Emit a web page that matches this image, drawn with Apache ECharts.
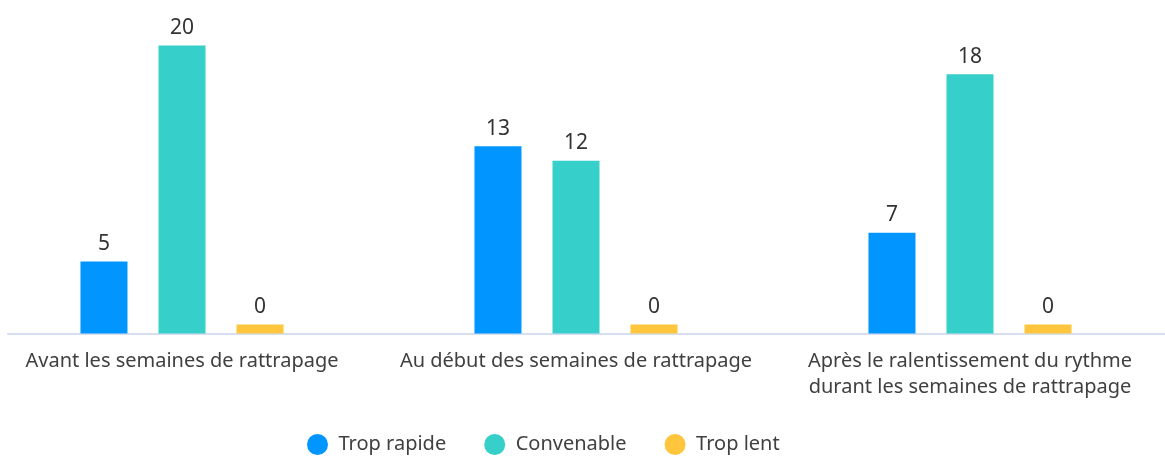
<!DOCTYPE html>
<html>
<head>
<meta charset="utf-8">
<script src="https://cdn.jsdelivr.net/npm/echarts@6/dist/echarts.min.js"></script>
<style>
html, body { margin: 0; padding: 0; background: #fff; }
#chart { width: 1165px; height: 459px; }
</style>
</head>
<body>
<div id="chart"></div>
<script>
// catégories et valeurs
var categories = [
	'Avant les semaines de rattrapage',
	'Au début des semaines de rattrapage',
	'Après le ralentissement du rythme\ndurant les semaines de rattrapage'
];
var seriesNames = ['Trop rapide', 'Convenable', 'Trop lent'];
var tropRapide = [5, 13, 7];
var convenable = [20, 12, 18];
var tropLent = [0, 0, 0];
var colors = ['#0095ff', '#36cfc9', '#ffc53d'];

var font = '"Noto Sans", sans-serif';

function makeBar(name, data) {
	return {
		name: name,
		type: 'bar',
		xAxisIndex: 0,
		yAxisIndex: 0,
		barWidth: 47,
		barGap: '66%',
		barMinHeight: 9,
		label: {
			show: true,
			position: 'top',
			distance: 7,
			color: '#333',
			fontSize: 21,
			fontFamily: font
		},
		data: data
	};
}

var chart = echarts.init(document.getElementById('chart'));
chart.setOption({
	color: colors,
	animation: false,
	legend: {
		top: 429,
		left: 302,
		icon: 'circle',
		itemWidth: 22,
		itemHeight: 21,
		itemGap: 38,
		textStyle: { color: '#404040', fontSize: 20, fontFamily: font, padding: [0, 0, 0, 5] },
		data: seriesNames
	},
	grid: [
		{ left: -15, width: 1182, top: 45.5, bottom: 125.5, outerBoundsMode: 'none' },
		{ left: 8, right: 0, top: 45.5, bottom: 125.5, outerBoundsMode: 'none' }
	],
	xAxis: [{
		gridIndex: 0,
		type: 'category',
		data: categories,
		axisLine: { show: false },
		axisTick: { show: false },
		axisLabel: {
			interval: 0,
			margin: 15,
			color: '#404040',
			fontSize: 20,
			lineHeight: 26,
			fontFamily: font
		}
	}, {
		gridIndex: 1,
		type: 'category',
		data: [''],
		axisLine: { lineStyle: { color: '#d6def0', width: 2 } },
		axisTick: { show: false },
		axisLabel: { show: false }
	}],
	yAxis: [{
		gridIndex: 0,
		type: 'value',
		min: 0,
		max: 20,
		show: false
	}, {
		gridIndex: 1,
		type: 'value',
		show: false
	}],
	series: [
		makeBar(seriesNames[0], tropRapide),
		makeBar(seriesNames[1], convenable),
		makeBar(seriesNames[2], tropLent)
	]
});
</script>
</body>
</html>
